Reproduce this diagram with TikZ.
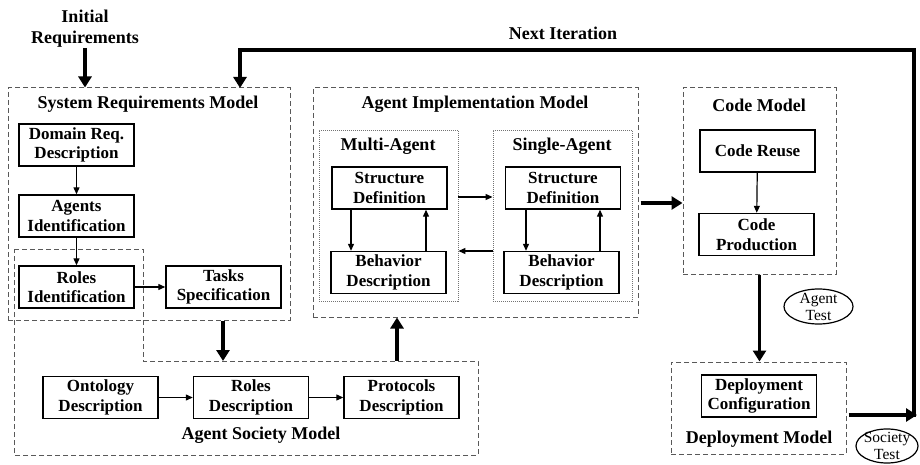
\documentclass[tikz,border=0pt]{standalone}
\usepackage{fontspec}
\setmainfont{Liberation Serif}
\usetikzlibrary{arrows.meta,shapes.geometric}
\newcommand{\boxfont}{\bfseries\fontsize{17}{19.5}\selectfont}
\newcommand{\ttlfont}{\bfseries\fontsize{18}{21}\selectfont}
\newcommand{\elfont}{\fontsize{15.5}{17}\selectfont}
\tikzset{
  bx/.style={draw, line width=1.4pt, fill=white, minimum width=115pt, minimum height=42pt, align=center, inner sep=0pt, font=\boxfont},
  dashbox/.style={draw=black!65, line width=1pt, dash pattern=on 5pt off 3pt, inner sep=0pt},
  dotbox/.style={draw=black!55, line width=0.9pt, dash pattern=on 1pt off 1pt, inner sep=0pt},
  ttl/.style={font=\ttlfont, align=center, inner sep=0pt},
  thin/.style={line width=1.2pt, -{Triangle[length=7pt,width=6pt]}},
  thick/.style={line width=3.2pt, -{Triangle[length=11pt,width=13pt]}},
  el/.style={draw, ellipse, line width=1.2pt, inner sep=0pt},
  eltext/.style={font=\elfont, align=center, inner sep=0pt}
}
\begin{document}
\begin{tikzpicture}[x=1pt,y=-1pt]
\useasboundingbox (0,0) rectangle (920,465);
% containers
\node[dashbox, minimum width=282pt, minimum height=232pt] (srm) at (149,204) {};
\draw[dashbox] (14,249) -- (143,249) -- (143,361) -- (478,361) -- (478,455) -- (14,455) -- cycle;
\coordinate (asmtop1) at (223,361);
\coordinate (asmtop2) at (397,361);
\node[dashbox, minimum width=325pt, minimum height=229pt] (aim) at (475.5,202.5) {};
\node[dotbox, minimum width=139pt, minimum height=171pt] (ma) at (388.5,215.5) {};
\node[dotbox, minimum width=139pt, minimum height=171pt] (sa) at (562.5,215.5) {};
\node[dashbox, minimum width=153pt, minimum height=186pt] (cm) at (759.5,181) {};
\node[dashbox, minimum width=175pt, minimum height=92pt] (dm) at (758.5,408) {};
% titles
\node[ttl] (ir) at (85,29) {Initial\\Requirements};
\node[ttl] (ni) at (563,33) {Next Iteration};
\node[ttl] (srmt) at (148,104) {System Requirements Model};
\node[ttl] (aimt) at (475,104) {Agent Implementation Model};
\node[ttl] (mat) at (388,146) {Multi-Agent};
\node[ttl] (sat) at (562,146) {Single-Agent};
\node[ttl] (cmt) at (759,105) {Code Model};
\node[ttl] (asmt) at (261,435) {Agent Society Model};
\node[ttl] (dmt) at (759,439) {Deployment Model};
% boxes
\node[bx] (dom) at (76.5,145) {Domain Req.\\Description};
\node[bx] (agid) at (76.5,216) {Agents\\Identification};
\node[bx] (roid) at (76.5,287) {Roles\\Identification};
\node[bx] (task) at (223.5,287) {Tasks\\Specification};
\node[bx] (onto) at (100.5,397.5) {Ontology\\Description};
\node[bx] (rold) at (251,397.5) {Roles\\Description};
\node[bx] (prot) at (401.5,397.5) {Protocols\\Description};
\node[bx] (msd) at (389.5,188) {Structure\\Definition};
\node[bx] (mbd) at (388.5,272.5) {Behavior\\Description};
\node[bx] (ssd) at (563,188) {Structure\\Definition};
\node[bx] (sbd) at (561.5,272.5) {Behavior\\Description};
\node[bx] (reuse) at (757.5,151) {Code Reuse};
\node[bx] (prod) at (756.5,234.5) {Code\\Production};
\node[bx] (dep) at (759,396) {Deployment\\Configuration};
% ellipses
\node[el, minimum width=69pt, minimum height=35pt] (at) at (818.5,306.5) {};
\node[eltext] (att) at (at.center) {Agent\\Test};
\node[el, minimum width=62pt, minimum height=34pt] (st) at (887,446) {};
\node[eltext] (stt) at (st.center) {Society\\Test};
% thin arrows
\draw[thin] (dom) -- (agid);
\draw[thin] (agid) -- (roid);
\draw[thin] (roid) -- (task);
\draw[thin] (onto) -- (rold);
\draw[thin] (rold) -- (prot);
\draw[thin] (msd.south -| 351,0) -- (mbd.north -| 351,0);
\draw[thin] (mbd.north -| 426,0) -- (msd.south -| 426,0);
\draw[thin] (ssd.south -| 526,0) -- (sbd.north -| 526,0);
\draw[thin] (sbd.north -| 600,0) -- (ssd.south -| 600,0);
\draw[thin] (ma.east |- 0,197) -- (sa.west |- 0,197);
\draw[thin] (sa.west |- 0,251) -- (ma.east |- 0,251);
\draw[thin] (reuse) -- (prod);
% thick arrows
\draw[thick] (ir.south) -- (ir.south |- srm.north);
\draw[thick] (srm.south -| asmtop1) -- (asmtop1);
\draw[thick] (asmtop2) -- (aim.south -| asmtop2);
\draw[thick] ([xshift=2pt]aim.east |- 0,203) -- (cm.west |- 0,203);
\draw[thick] (cm.south) -- (dm.north -| cm.south);
\coordinate (corner) at (914,50);
\draw[line width=3.2pt] (914,417) -- (corner) -- (corner -| 240,0);
\draw[thick] (240,48.4) -- (240 ,88);
\draw[thick] ([xshift=2pt]dm.east |- 0,415) -- (917,415);
\end{tikzpicture}
\end{document}
